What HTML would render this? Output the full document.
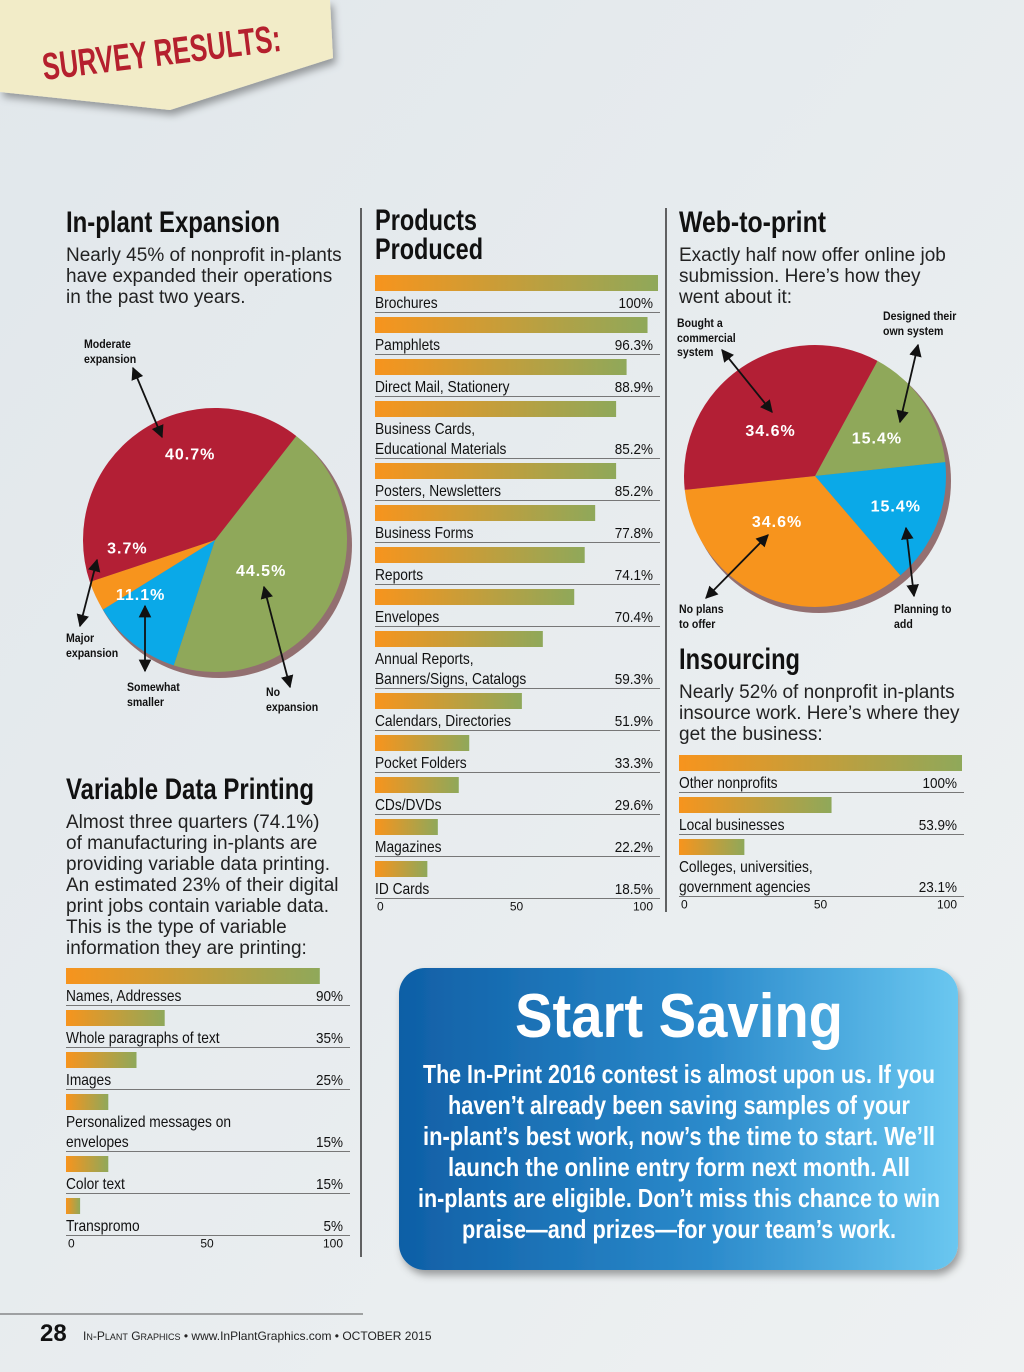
<!DOCTYPE html>
<html><head><meta charset="utf-8"><style>
html,body{margin:0;padding:0;background:#e6ebee;}
svg{display:block;}
text{font-family:"Liberation Sans",sans-serif;}
</style></head><body>
<svg id="pg" width="1024" height="1372" viewBox="0 0 1024 1372" xmlns="http://www.w3.org/2000/svg">
<defs>
<linearGradient id="bg" x1="0" y1="0" x2="1" y2="1"><stop offset="0" stop-color="#e1e7eb"/><stop offset="1" stop-color="#eef1f2"/></linearGradient>
<linearGradient id="bar" x1="0" y1="0" x2="1" y2="0"><stop offset="0" stop-color="#f7941d"/><stop offset="1" stop-color="#8fa85a"/></linearGradient>
<linearGradient id="box" x1="0" y1="0" x2="1" y2="0"><stop offset="0" stop-color="#0f5fa6"/><stop offset="0.55" stop-color="#2b8acb"/><stop offset="1" stop-color="#6ac7f0"/></linearGradient>
<filter id="sh" x="-10%" y="-10%" width="130%" height="130%"><feDropShadow dx="3" dy="5" stdDeviation="4" flood-color="#000" flood-opacity="0.35"/></filter>
<marker id="ah" viewBox="0 0 10 10" refX="9" refY="5" markerWidth="7" markerHeight="7" orient="auto-start-reverse"><path d="M0,0L10,5L0,10z" fill="#111"/></marker>
</defs>
<rect width="1024" height="1372" fill="url(#bg)"/>
<g>
<polygon points="0,0 330,0 333,58 170,110 0,92" fill="#f2ecc8" filter="url(#sh)"/>
<text x="44" y="80" font-size="38" font-weight="bold" fill="#b5202e" transform="rotate(-7 44 80)" textLength="240" lengthAdjust="spacingAndGlyphs">SURVEY RESULTS:</text>
</g>
<line x1="361" y1="208" x2="361" y2="1257" stroke="#333" stroke-width="1.5"/>
<line x1="666" y1="208" x2="666" y2="912" stroke="#333" stroke-width="1.5"/>

<g>
<text x="66" y="232" font-size="30" font-weight="bold" fill="#111" textLength="214" lengthAdjust="spacingAndGlyphs">In-plant Expansion</text>
<text font-size="19" fill="#222"><tspan x="66" y="261">Nearly 45% of nonprofit in-plants</tspan><tspan x="66" y="282">have expanded their operations</tspan><tspan x="66" y="303">in the past two years.</tspan></text>
<g id="pie1"></g>
</g>

<g>
<text x="66" y="799" font-size="30" font-weight="bold" fill="#111" textLength="248" lengthAdjust="spacingAndGlyphs">Variable Data Printing</text>
<text font-size="19" fill="#222"><tspan x="66" y="828">Almost three quarters (74.1%)</tspan><tspan x="66" y="849">of manufacturing in-plants are</tspan><tspan x="66" y="870">providing variable data printing.</tspan><tspan x="66" y="891">An estimated 23% of their digital</tspan><tspan x="66" y="912">print jobs contain variable data.</tspan><tspan x="66" y="933">This is the type of variable</tspan><tspan x="66" y="954">information they are printing:</tspan></text>
<g id="vdp"></g>
</g>

<g>
<text x="375" y="230" font-size="30" font-weight="bold" fill="#111" textLength="102" lengthAdjust="spacingAndGlyphs">Products</text>
<text x="375" y="259" font-size="30" font-weight="bold" fill="#111" textLength="108" lengthAdjust="spacingAndGlyphs">Produced</text>
<g id="prod"></g>
</g>

<g>
<text x="679" y="232" font-size="30" font-weight="bold" fill="#111" textLength="147" lengthAdjust="spacingAndGlyphs">Web-to-print</text>
<text font-size="19" fill="#222"><tspan x="679" y="261">Exactly half now offer online job</tspan><tspan x="679" y="282">submission. Here’s how they</tspan><tspan x="679" y="303">went about it:</tspan></text>
<g id="pie2"></g>
<text x="679" y="669" font-size="30" font-weight="bold" fill="#111" textLength="121" lengthAdjust="spacingAndGlyphs">Insourcing</text>
<text font-size="19" fill="#222"><tspan x="679" y="698">Nearly 52% of nonprofit in-plants</tspan><tspan x="679" y="719">insource work. Here’s where they</tspan><tspan x="679" y="740">get the business:</tspan></text>
<g id="ins"></g>
</g>

<g>
<rect x="399" y="968" width="559" height="302" rx="26" fill="url(#box)" filter="url(#sh)"/>
<text x="679" y="1037" text-anchor="middle" font-size="62" font-weight="bold" fill="#fff" textLength="328" lengthAdjust="spacingAndGlyphs">Start Saving</text>
<g font-size="26" font-weight="bold" fill="#fff" text-anchor="middle">
<text x="679" y="1083" textLength="512" lengthAdjust="spacingAndGlyphs">The In-Print 2016 contest is almost upon us. If you</text>
<text x="679" y="1114" textLength="462" lengthAdjust="spacingAndGlyphs">haven’t already been saving samples of your</text>
<text x="679" y="1145" textLength="512" lengthAdjust="spacingAndGlyphs">in-plant’s best work, now’s the time to start. We’ll</text>
<text x="679" y="1176" textLength="462" lengthAdjust="spacingAndGlyphs">launch the online entry form next month. All</text>
<text x="679" y="1207" textLength="522" lengthAdjust="spacingAndGlyphs">in-plants are eligible. Don’t miss this chance to win</text>
<text x="679" y="1238" textLength="434" lengthAdjust="spacingAndGlyphs">praise—and prizes—for your team’s work.</text>
</g>
</g>

<g>
<line x1="0" y1="1314" x2="363" y2="1314" stroke="#555" stroke-width="1"/>
<text x="40" y="1341" font-size="24" font-weight="bold" fill="#111">28</text>
<text x="83" y="1340" font-size="12" fill="#222">I<tspan font-size="9">N</tspan>-P<tspan font-size="9">LANT</tspan> G<tspan font-size="9">RAPHICS</tspan>  •  www.InPlantGraphics.com  •  OCTOBER 2015</text>
</g>
</svg>
<script>
var NS="http://www.w3.org/2000/svg";
function mk(p,t,a){var e=document.createElementNS(NS,t);for(var k in a)e.setAttribute(k,a[k]);p.appendChild(e);return e;}

// Products produced
var prodLabels=[["Brochures"],["Pamphlets"],["Direct Mail, Stationery"],["Business Cards,","Educational Materials"],["Posters, Newsletters"],["Business Forms"],["Reports"],["Envelopes"],["Annual Reports,","Banners/Signs, Catalogs"],["Calendars, Directories"],["Pocket Folders"],["CDs/DVDs"],["Magazines"],["ID Cards"]];
var prodValues=[100,96.3,88.9,85.2,85.2,77.8,74.1,70.4,59.3,51.9,33.3,29.6,22.2,18.5];
var prodPrinted=["100%","96.3%","88.9%","85.2%","85.2%","77.8%","74.1%","70.4%","59.3%","51.9%","33.3%","29.6%","22.2%","18.5%"];
// Variable data
var vdpLabels=[["Names, Addresses"],["Whole paragraphs of text"],["Images"],["Personalized messages on","envelopes"],["Color text"],["Transpromo"]];
var vdpValues=[90,35,25,15,15,5];
var vdpPrinted=["90%","35%","25%","15%","15%","5%"];
// Insourcing
var insLabels=[["Other nonprofits"],["Local businesses"],["Colleges, universities,","government agencies"]];
var insValues=[100,53.9,23.1];
var insPrinted=["100%","53.9%","23.1%"];
var axisTicks=[0,50,100];

function barChart(id,x0,x1,y0,labels,values,printed,name){
  var g=document.getElementById(id);
  var sx=function(v){return x0+(x1-x0)*v/100;};
  var y=y0, lastLine=y0;
  for(var i=0;i<values.length;i++){
    var extra=(labels[i].length-1)*20;
    var r=mk(g,"rect",{x:x0,y:y,width:sx(values[i])-x0,height:16,fill:"url(#bar)"});
    
    
    for(var j=0;j<labels[i].length;j++){
      var t=mk(g,"text",{transform:"translate("+x0+","+(y+33+j*20)+") scale(0.86,1)","font-size":"16",fill:"#111"});
      t.textContent=labels[i][j];
      
      
    }
    var v=mk(g,"text",{transform:"translate("+(x1-5)+","+(y+33+extra)+") scale(0.9,1)","font-size":"15",fill:"#111","text-anchor":"end"});
    v.textContent=printed[i];
    
    
    lastLine=y+37.5+extra;
    mk(g,"line",{x1:x0,x2:x1+2,y1:lastLine,y2:lastLine,stroke:"#777","stroke-width":"1"});
    y+=42+extra;
  }
  for(var k=0;k<axisTicks.length;k++){
    var tx=sx(axisTicks[k]);
    var a=mk(g,"text",{x:tx+(k==axisTicks.length-1?-5:(k==0?2:0)),y:lastLine+12,"font-size":"12",fill:"#111","text-anchor":k==0?"start":(k==axisTicks.length-1?"end":"middle")});
    a.textContent=axisTicks[k];
    
    
  }
}
barChart("prod",375,658,275,prodLabels,prodValues,prodPrinted,"products");
barChart("vdp",66,348,968,vdpLabels,vdpValues,vdpPrinted,"variable-data");
barChart("ins",679,962,755,insLabels,insValues,insPrinted,"insourcing");

// Pies
var pie1Values=[44.5,11.1,3.7,40.7];
var pie1Labels=["44.5%","11.1%","3.7%","40.7%"];
var pie1Colors=["#8fa85a","#0aa9e8","#f7941d","#b31f35"];
var pie2Values=[15.4,15.4,34.6,34.6];
var pie2Labels=["15.4%","15.4%","34.6%","34.6%"];
var pie2Colors=["#8fa85a","#0aa9e8","#f7941d","#b31f35"];
// label placement (angle deg, radius px) - style only
var pie1LabelPos=[[123,55],[234,92],[265,88],[344,90]];
var pie2LabelPos=[[58,73],[110,86],[220,59],[316,64]];

function pie(id,cx,cy,r,start,vals,labs,cols,lp,name){
  var g=document.getElementById(id);
  mk(g,"circle",{cx:cx+4,cy:cy+5,r:r+1,fill:"#5a1c1c",opacity:"0.6"});
  var a=start;
  function pt(ang,rad){var t=(ang-90)*Math.PI/180;return [cx+rad*Math.cos(t),cy+rad*Math.sin(t)];}
  for(var i=0;i<vals.length;i++){
    var sw=vals[i]*3.6,p0=pt(a,r),p1=pt(a+sw,r);
    var s=mk(g,"path",{d:"M"+cx+","+cy+"L"+p0[0]+","+p0[1]+"A"+r+","+r+" 0 "+(sw>180?1:0)+" 1 "+p1[0]+","+p1[1]+"Z",fill:cols[i]});
    
    
    a+=sw;
  }
  for(var i=0;i<vals.length;i++){
    var m=pt(lp[i][0],lp[i][1]);
    var t=mk(g,"text",{x:m[0],y:m[1]+6,"font-size":"16","font-weight":"bold",fill:"#fff","text-anchor":"middle","letter-spacing":"1"});
    t.textContent=labs[i];
    
    
  }
}
pie("pie1",215,540,132,38,pie1Values,pie1Labels,pie1Colors,pie1LabelPos,"expansion-pie");
pie("pie2",815,476,131,28.5,pie2Values,pie2Labels,pie2Colors,pie2LabelPos,"web-to-print-pie");

// annotations
var notes=[
 ["pie1",[["Moderate",84,348],["expansion",84,363]],[133,368,162,437]],
 ["pie1",[["Major",66,642],["expansion",66,657]],[97,560,80,626]],
 ["pie1",[["Somewhat",127,691],["smaller",127,706]],[145,606,145,671]],
 ["pie1",[["No",266,696],["expansion",266,711]],[264,587,290,687]],
 ["pie2",[["Bought a",677,327],["commercial",677,342],["system",677,356]],[722,350,772,412]],
 ["pie2",[["Designed their",883,320],["own system",883,335]],[918,345,900,422]],
 ["pie2",[["No plans",679,613],["to offer",679,628]],[768,535,706,598]],
 ["pie2",[["Planning to",894,613],["add",894,628]],[906,528,914,596]]
];
for(var i=0;i<notes.length;i++){
  var g=document.getElementById(notes[i][0]);
  var L=notes[i][2];
  mk(g,"line",{x1:L[0],y1:L[1],x2:L[2],y2:L[3],stroke:"#111","stroke-width":"1.8","marker-start":"url(#ah)","marker-end":"url(#ah)"});
  for(var j=0;j<notes[i][1].length;j++){
    var n=notes[i][1][j];
    var t=mk(g,"text",{transform:"translate("+n[1]+","+n[2]+") scale(0.88,1)","font-size":"12","font-weight":"bold",fill:"#111"});
    t.textContent=n[0];
    
    
  }
}
</script>
</body></html>
